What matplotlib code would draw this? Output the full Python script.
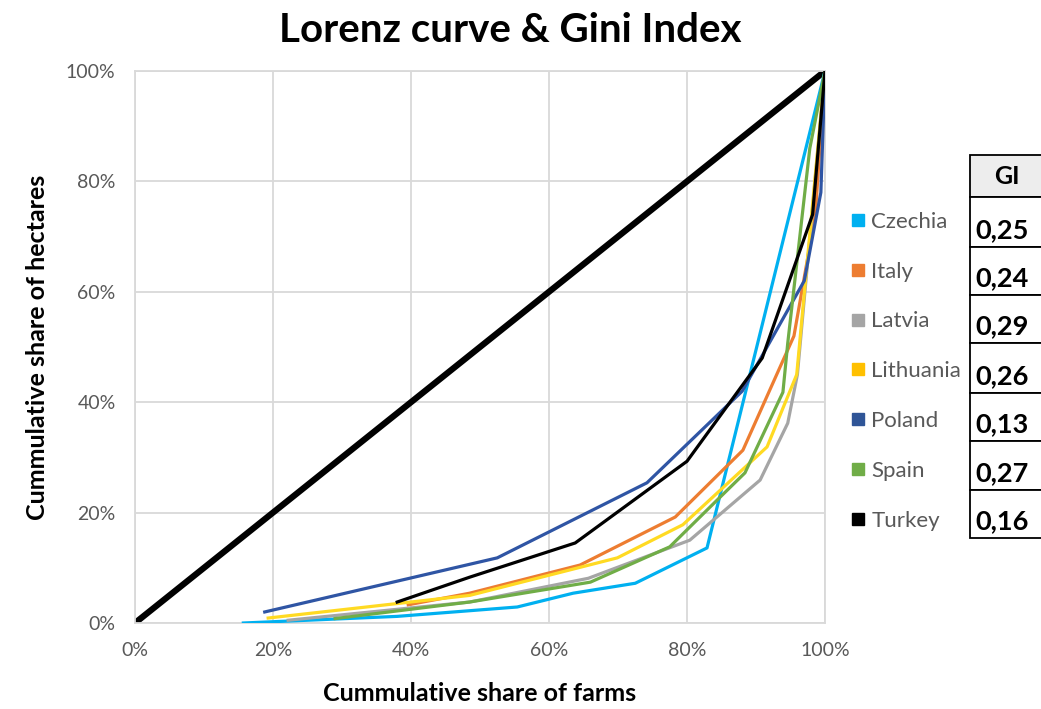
import matplotlib.pyplot as plt
from matplotlib.lines import Line2D
from matplotlib.patches import Rectangle
from matplotlib.ticker import PercentFormatter

plt.rcParams['font.family'] = ['Lato', 'DejaVu Sans']

# cumulative share of farms (x) and hectares (y), in %
countries = ['Czechia', 'Italy', 'Latvia', 'Lithuania', 'Poland', 'Spain', 'Turkey']
gini = ['0,25', '0,24', '0,29', '0,26', '0,13', '0,27', '0,16']

czechia_x = [15.7, 38, 55.4, 63.5, 72.5, 82.9, 100]
czechia_y = [0, 1.2, 2.9, 5.4, 7.2, 13.6, 100]
italy_x = [39.6, 48.5, 64.5, 78.3, 88.1, 95.5, 98.6, 100]
italy_y = [3.3, 5.4, 10.5, 19.2, 31.3, 52, 74, 100]
latvia_x = [22.2, 48.5, 65.7, 80.4, 90.6, 94.6, 96, 100]
latvia_y = [0.5, 3.8, 8.1, 15, 25.9, 36.2, 45, 100]
lithuania_x = [19.3, 48.5, 69.9, 79.4, 91.6, 95.9, 100]
lithuania_y = [0.9, 5, 11.8, 17.8, 31.9, 45, 100]
poland_x = [18.8, 52.5, 74.2, 88, 97, 99.4, 100]
poland_y = [2, 11.8, 25.4, 42, 62, 78, 100]
spain_x = [29, 48.5, 66, 77.5, 84.8, 88.4, 93.9, 94.6, 97.8, 100]
spain_y = [0.8, 3.8, 7.4, 13.8, 22.8, 27.2, 41.8, 50.7, 86, 100]
turkey_x = [38, 48.5, 63.8, 80, 90.9, 98.2, 100]
turkey_y = [3.8, 8.3, 14.5, 29.3, 48, 74, 100]
equality = [0, 100]

series_x = [czechia_x, italy_x, latvia_x, lithuania_x, poland_x, spain_x, turkey_x]
series_y = [czechia_y, italy_y, latvia_y, lithuania_y, poland_y, spain_y, turkey_y]
line_colors = ['#00B0F0', '#ED7D31', '#A5A5A5', '#FFDA22', '#2F55A4', '#70AD47', '#000000']
legend_colors = ['#00B0F0', '#ED7D31', '#A5A5A5', '#FFC000', '#2F5597', '#70AD47', '#000000']

fig = plt.figure(figsize=(10.41, 7.09), dpi=100)
ax = fig.add_axes([135 / 1041, 1 - 623 / 709, 690 / 1041, 552 / 709])

ax.plot(equality, equality, color='black', lw=4.5, solid_capstyle='round', zorder=2)
for x, y, c in zip(series_x, series_y, line_colors):
    ax.plot(x, y, color=c, lw=2.3, zorder=3)

ax.set_xlim(0, 100)
ax.set_ylim(0, 100)
ax.set_xticks(range(0, 101, 20))
ax.set_yticks(range(0, 101, 20))
ax.xaxis.set_major_formatter(PercentFormatter(decimals=0))
ax.yaxis.set_major_formatter(PercentFormatter(decimals=0))
ax.grid(color='#D9D9D9', lw=1.3)
ax.set_axisbelow(True)
for s in ax.spines.values():
    s.set_color('#D9D9D9')
    s.set_linewidth(1.3)
ax.tick_params(length=0, labelsize=14, colors='#595959', pad=14)

ax.set_xlabel('Cummulative share of farms', fontsize=18, fontweight='bold', labelpad=16)
ax.set_ylabel('Cummulative share of hectares', fontsize=18, fontweight='bold', labelpad=12)
fig.text(510 / 1041, 1 - 31 / 709, 'Lorenz curve & Gini Index', fontsize=29,
         fontweight='bold', ha='center', va='center')

# legend
handles = [Line2D([], [], ls='none', marker='s', markersize=9, color=c) for c in legend_colors]
fig.legend(handles, countries, loc='upper left', bbox_to_anchor=(838 / 1041, 1 - 203 / 709),
           frameon=False, fontsize=16, labelcolor='#595959', handletextpad=0.1,
           handlelength=1.0, labelspacing=1.34, borderaxespad=0)

# Gini index table
left, right = 970, 1045
rows = [155, 197, 247, 295, 343, 393, 441, 490, 538]
W, H = 1041, 709
fig.patches.append(Rectangle((left / W, 1 - rows[1] / H), (right - left) / W,
                             (rows[1] - rows[0]) / H, transform=fig.transFigure,
                             facecolor='#EDEDED', edgecolor='black', lw=1.3))
for i in range(1, len(rows) - 1):
    fig.patches.append(Rectangle((left / W, 1 - rows[i + 1] / H), (right - left) / W,
                                 (rows[i + 1] - rows[i]) / H, transform=fig.transFigure,
                                 facecolor='white', edgecolor='black', lw=1.3))
fig.text(1007 / W, 1 - 177 / H, 'GI', fontsize=18, fontweight='bold', ha='center', va='center')
for i, g in enumerate(gini):
    fig.text(975 / W, 1 - (rows[i + 2] - 17) / H, g, fontsize=19.5, fontweight='bold',
             ha='left', va='center')

fig.savefig('out.png', dpi=100)
